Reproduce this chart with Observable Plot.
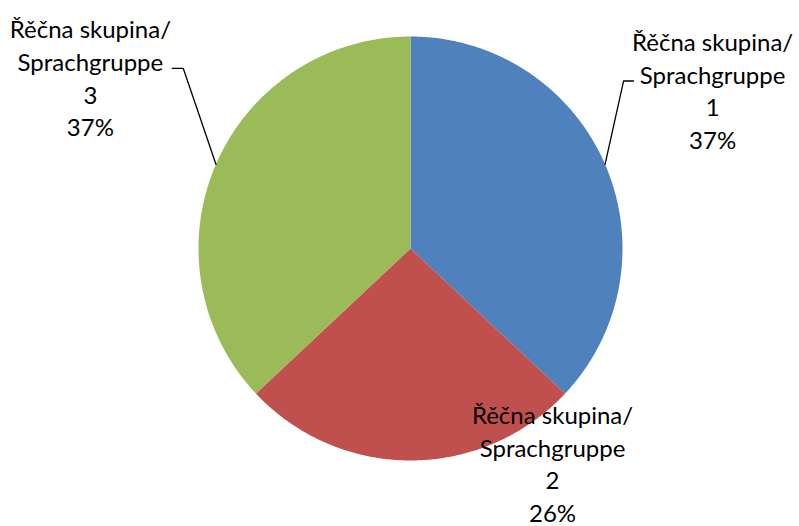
<!DOCTYPE html>
<html>
<head>
<meta charset="utf-8">
<script src="https://cdn.jsdelivr.net/npm/d3@7"></script>
<script src="https://cdn.jsdelivr.net/npm/@observablehq/plot@0.6"></script>
<style>
  html, body { margin: 0; padding: 0; background: #fff; }
</style>
</head>
<body>
<div id="chart"></div>
<script>
// Data
const groups = ["1", "2", "3"];
const shares = [37, 26, 37];
const labelPrefix = "Řěčna skupina/\nSprachgruppe";

// Styles / layout
const colors = ["#4F81BD", "#C0504D", "#9BBB59"];
// label centres and leader elbows, in radius units
const labelAt = [[1.425, 0.75], [0.67, -1.01], [-1.51, 0.81]];
const elbows = [[[1.005, 0.79], [1.052, 0.79]], null, [[-1.072, 0.85], [-1.124, 0.85]]];

const total = d3.sum(shares);
let cum = 0;
const slices = groups.map((g, i) => {
  const a0 = cum / total * 2 * Math.PI;
  cum += shares[i];
  const a1 = cum / total * 2 * Math.PI;
  return {g, share: shares[i], a0, a1, mid: (a0 + a1) / 2, i};
});

// polygon points for each slice (angle measured clockwise from top)
const polyPts = [];
for (const s of slices) {
  polyPts.push({g: s.g, x: 0, y: 0});
  const n = Math.max(2, Math.ceil((s.a1 - s.a0) / (Math.PI / 360)));
  for (let k = 0; k <= n; k++) {
    const a = s.a0 + (s.a1 - s.a0) * k / n;
    polyPts.push({g: s.g, x: Math.sin(a), y: Math.cos(a)});
  }
  polyPts.push({g: s.g, x: 0, y: 0});
}

const leaderPts = [];
slices.forEach(s => {
  const e = elbows[s.i];
  if (!e) return;
  leaderPts.push({g: s.g, x: Math.sin(s.mid), y: Math.cos(s.mid)});
  e.forEach(p => leaderPts.push({g: s.g, x: p[0], y: p[1]}));
});

const labels = slices.map(s => ({
  g: s.g,
  x: labelAt[s.i][0],
  y: labelAt[s.i][1],
  text: `${labelPrefix}\n${s.g}\n${s.share}%`
}));

const chart = Plot.plot({
  width: 799,
  height: 526,
  marginLeft: 198,
  marginRight: 177,
  marginTop: 36,
  marginBottom: 66,
  x: {domain: [-1, 1], axis: null},
  y: {domain: [-1, 1], axis: null},
  color: {domain: groups, range: colors},
  style: {fontFamily: "Lato, 'Liberation Sans', sans-serif", background: "#fff", overflow: "visible"},
  marks: [
    Plot.line(polyPts, {x: "x", y: "y", z: "g", fill: "g", stroke: null, curve: "linear-closed", clip: false}),
    Plot.line(leaderPts, {x: "x", y: "y", z: "g", stroke: "#000", strokeWidth: 1.3, clip: false}),
    Plot.text(labels, {x: "x", y: "y", text: "text", fontSize: 24, lineHeight: 1.36, fill: "#000", textAnchor: "middle", lineAnchor: "middle", clip: false})
  ]
});
document.getElementById("chart").appendChild(chart);
</script>
</body>
</html>
